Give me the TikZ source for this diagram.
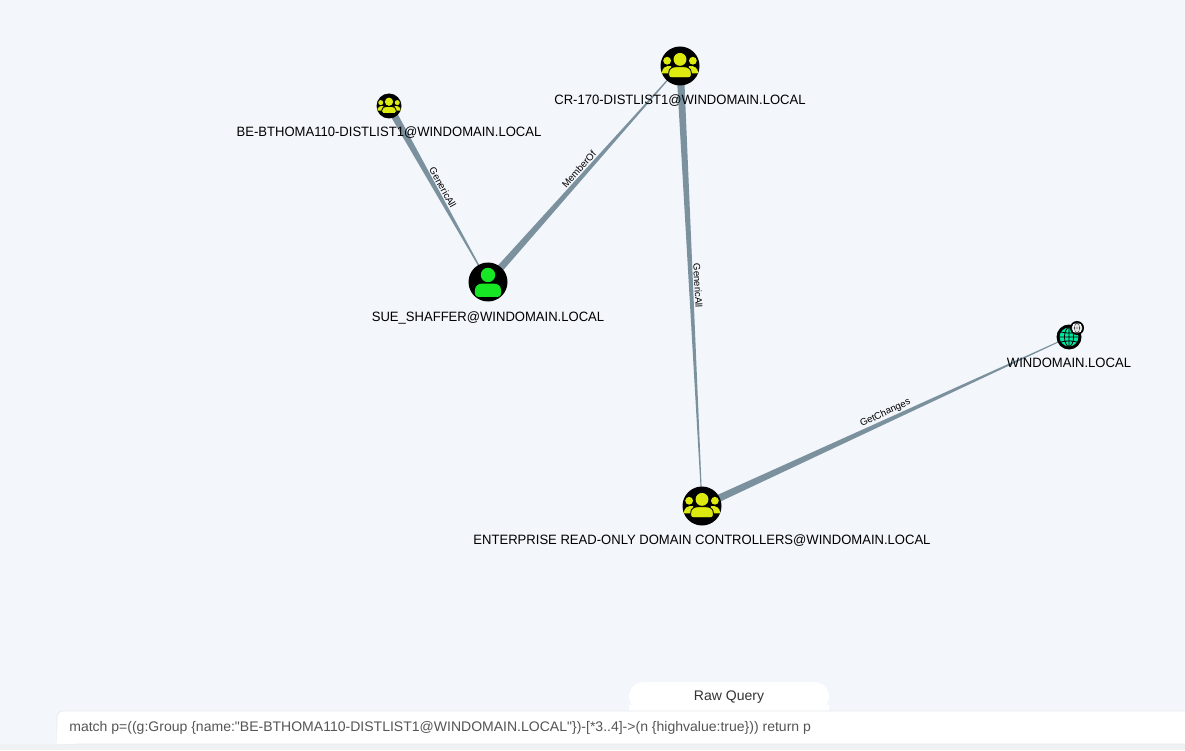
\documentclass[tikz,border=0pt]{standalone}
\usepackage{fontspec}
\setmainfont{Liberation Sans}
\newfontfamily\labelfont[FakeStretch=0.965]{Liberation Sans}
\newfontfamily\queryfont[FakeStretch=1.01]{Liberation Sans}
\usetikzlibrary{positioning, calc, backgrounds}
\definecolor{pagebg}{HTML}{F3F6FB}
\definecolor{stripbg}{HTML}{F0F1F3}
\definecolor{edgegray}{HTML}{7B919E}
\definecolor{groupyellow}{HTML}{DCEA10}
\definecolor{usergreen}{HTML}{17E625}
\definecolor{domainteal}{HTML}{00E6A0}
\definecolor{querygray}{HTML}{555555}
\definecolor{barline}{HTML}{E8E9EC}

\newcommand{\taperedge}[2]{%
  \fill[edgegray] ($(#1)!0.075cm!90:(#2)$) -- ($(#1)!0.075cm!-90:(#2)$)
    -- ($(#2)!0.008cm!90:(#1)$) -- ($(#2)!0.008cm!-90:(#1)$) -- cycle;}

\tikzset{
  bignode/.style={circle, fill=black, inner sep=0pt, outer sep=0pt, minimum size=0.78cm},
  smallnode/.style={circle, fill=black, inner sep=0pt, outer sep=0pt, minimum size=0.5cm},
  nodelabel/.style={font=\labelfont\fontsize{7.7}{9}\selectfont, inner sep=0pt, text height=6pt, text depth=1.5pt, text=black},
  edgelabel/.style={font=\fontsize{5.5}{6}\selectfont, inner sep=0pt, sloped, above=1.7pt, midway, text=black},
  uitext/.style={font=\queryfont\fontsize{7.9}{9}\selectfont, inner sep=0pt},
  groupicon/.pic={
    \fill[groupyellow] (-0.66,0.27) circle (0.2);
    \fill[groupyellow] (0.66,0.27) circle (0.2);
    \fill[groupyellow] (-0.45,0) .. controls (-0.75,0.02) and (-0.93,-0.1) .. (-0.93,-0.38) -- (-0.45,-0.38) -- cycle;
    \fill[groupyellow] (0.45,0) .. controls (0.75,0.02) and (0.93,-0.1) .. (0.93,-0.38) -- (0.45,-0.38) -- cycle;
    \fill[groupyellow] (0,0.34) circle (0.33);
    \fill[groupyellow, draw=black, line width=0.5pt] (-0.58,-0.48) -- (-0.58,-0.35)
      .. controls (-0.58,-0.12) and (-0.38,-0.04) .. (-0.22,-0.04) -- (0.22,-0.04)
      .. controls (0.38,-0.04) and (0.58,-0.12) .. (0.58,-0.35) -- (0.58,-0.48)
      .. controls (0.58,-0.58) and (0.5,-0.6) .. (0.45,-0.6) -- (-0.45,-0.6)
      .. controls (-0.5,-0.6) and (-0.58,-0.58) .. (-0.58,-0.48) -- cycle;
  },
  usericon/.pic={
    \fill[usergreen] (0,0.36) circle (0.37);
    \fill[usergreen] (-0.67,-0.6) -- (-0.67,-0.4)
      .. controls (-0.67,-0.18) and (-0.45,-0.08) .. (-0.3,-0.08) -- (0.3,-0.08)
      .. controls (0.45,-0.08) and (0.67,-0.18) .. (0.67,-0.4) -- (0.67,-0.6)
      .. controls (0.67,-0.72) and (0.58,-0.76) .. (0.5,-0.76) -- (-0.5,-0.76)
      .. controls (-0.58,-0.76) and (-0.67,-0.72) .. (-0.67,-0.6) -- cycle;
  },
  globeicon/.pic={
    \fill[domainteal] (0,0) circle (0.78);
    \draw[black, line width=0.45pt] (0,-0.78) -- (0,0.78) (-0.78,0) -- (0.78,0)
      (-0.66,0.42) .. controls (-0.3,0.3) and (0.3,0.3) .. (0.66,0.42)
      (-0.66,-0.42) .. controls (-0.3,-0.3) and (0.3,-0.3) .. (0.66,-0.42)
      (0,0) ellipse (0.38 and 0.78);
  },
  badgeicon/.pic={
    \fill[black] (0,0) circle (1);
    \fill[white] (0,0) circle (0.76);
    \draw[black, line width=0.25pt] (0,-0.76) -- (0,0.76) (-0.76,0) -- (0.76,0) (0,0) ellipse (0.36 and 0.76);
  }
}

\begin{document}
\begin{tikzpicture}
  \useasboundingbox (0,0) rectangle (23.7,15);

  % Nodes
  \node[smallnode] (be) at (7.78,12.88) {};
  \node[bignode] (cr) at (13.6,13.68) {};
  \node[bignode] (sue) at (9.76,9.36) {};
  \node[smallnode] (win) at (21.38,8.26) {};
  \node[bignode] (ent) at (14.04,4.88) {};

  \pic[scale=0.25] at (be) {groupicon};
  \pic[scale=0.39] at (cr) {groupicon};
  \pic[scale=0.39] at (sue) {usericon};
  \pic[scale=0.24] at (win) {globeicon};
  \pic[scale=0.39] at (ent) {groupicon};
  \pic[scale=0.14] at ($(win)+(0.16,0.18)$) {badgeicon};

  % Labels
  \node[nodelabel, below=0.14cm of be] (belabel) {BE-BTHOMA110-DISTLIST1@WINDOMAIN.LOCAL};
  \node[nodelabel, below=0.16cm of cr] (crlabel) {CR-170-DISTLIST1@WINDOMAIN.LOCAL};
  \node[nodelabel, below=0.18cm of sue] (suelabel) {SUE\_SHAFFER@WINDOMAIN.LOCAL};
  \node[nodelabel, below=0.14cm of win] (winlabel) {WINDOMAIN.LOCAL};
  \node[nodelabel, below=0.16cm of ent] (entlabel) {ENTERPRISE READ-ONLY DOMAIN CONTROLLERS@WINDOMAIN.LOCAL};

  % Edges
  \begin{pgfonlayer}{background}
    \fill[pagebg] (0,0) rectangle (23.7,15);
    \taperedge{be}{sue}
    \taperedge{sue}{cr}
    \taperedge{cr}{ent}
    \taperedge{ent}{win}
  \end{pgfonlayer}
  \path (be) -- node[edgelabel] {GenericAll} (sue);
  \path (sue) -- node[edgelabel] {MemberOf} (cr);
  \path (cr) -- node[edgelabel] {GenericAll} (ent);
  \path (ent) -- node[edgelabel] {GetChanges} (win);

  % Query bar
  \fill[stripbg] (0,0) rectangle (23.7,0.12);
  \fill[white, rounded corners=0.3cm] (12.58,0.78) -- (12.58,1.36) -- (16.58,1.36) -- (16.58,0.78) -- cycle;
  \fill[white] (12.58,0.7) rectangle (16.58,0.9);
  \fill[white, draw=barline, line width=0.4pt, rounded corners=0.12cm] (1.14,0.12) -- (1.14,0.78) -- (24,0.78) -- (24,0.12) -- cycle;
  \fill[white] (1.14,0.12) rectangle (1.5,0.4);
  \node[uitext, text=black!80] (rawquery) at (14.58,1.05) {Raw Query};
  \node[uitext, text=querygray, anchor=west] (querytext) at (1.38,0.44)
    {match p=((g:Group \{name:"BE-BTHOMA110-DISTLIST1@WINDOMAIN.LOCAL"\})-[*3..4]->(n \{highvalue:true\})) return p};
\end{tikzpicture}
\end{document}
